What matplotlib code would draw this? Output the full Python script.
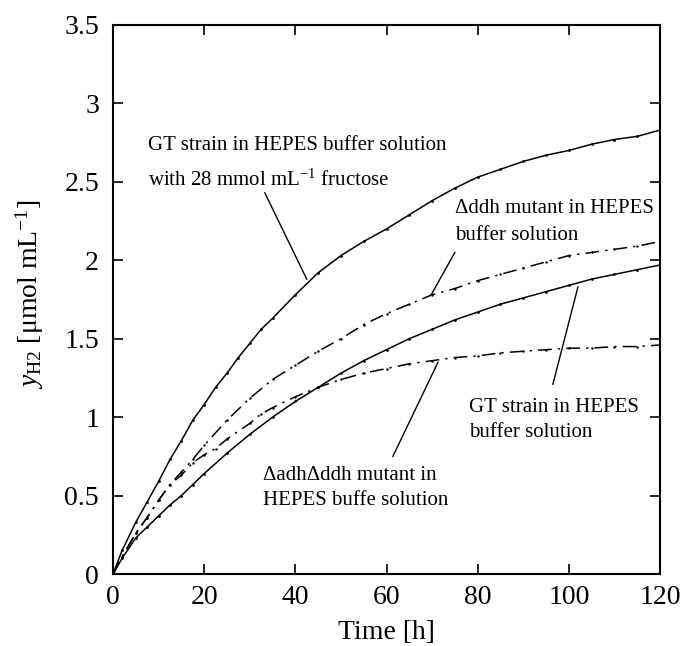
import matplotlib.pyplot as plt

plt.rcParams['font.family'] = ['Liberation Serif', 'DejaVu Serif']
plt.rcParams['mathtext.fontset'] = 'custom'
plt.rcParams['mathtext.rm'] = 'Liberation Serif'
plt.rcParams['mathtext.it'] = 'Liberation Serif:italic'

# GT strain + fructose
t_fru = [0, 2, 5, 7.5, 10, 12.5, 15, 17.5, 20, 22.5, 25, 27.5, 30, 32.5, 35, 40, 45, 50, 55, 60, 65, 70, 75, 80, 85, 90, 95, 100, 105, 110, 115, 120]
y_fru = [0, 0.15, 0.33, 0.46, 0.59, 0.73, 0.85, 0.98, 1.08, 1.19, 1.28, 1.38, 1.47, 1.56, 1.63, 1.78, 1.92, 2.03, 2.12, 2.20, 2.29, 2.38, 2.46, 2.53, 2.58, 2.63, 2.67, 2.70, 2.74, 2.77, 2.79, 2.83]

# delta ddh mutant
t_ddh = [0, 2, 5, 7.5, 10, 12.5, 15, 17.5, 20, 25, 30, 35, 40, 45, 50, 55, 60, 65, 70, 75, 80, 85, 90, 95, 100, 105, 110, 115, 120]
y_ddh = [0, 0.11, 0.26, 0.36, 0.47, 0.57, 0.65, 0.73, 0.82, 0.98, 1.12, 1.24, 1.33, 1.42, 1.50, 1.59, 1.66, 1.72, 1.78, 1.82, 1.87, 1.91, 1.95, 1.99, 2.03, 2.05, 2.07, 2.09, 2.12]

# GT strain
t_gt = [0, 2, 5, 7.5, 10, 12.5, 15, 17.5, 20, 25, 30, 35, 40, 45, 50, 55, 60, 65, 70, 75, 80, 85, 90, 95, 100, 105, 110, 115, 120]
y_gt = [0, 0.1, 0.23, 0.30, 0.37, 0.44, 0.50, 0.57, 0.64, 0.77, 0.89, 1.00, 1.10, 1.19, 1.28, 1.36, 1.43, 1.50, 1.56, 1.62, 1.67, 1.72, 1.76, 1.80, 1.84, 1.88, 1.91, 1.94, 1.97]

# delta adh delta ddh mutant
t_add = [0, 2, 5, 7.5, 10, 12.5, 15, 17.5, 20, 22.5, 25, 30, 32.5, 35, 40, 45, 50, 55, 60, 65, 70, 75, 80, 85, 90, 95, 100, 105, 110, 115, 120]
y_add = [0, 0.11, 0.26, 0.36, 0.47, 0.57, 0.63, 0.71, 0.76, 0.80, 0.86, 0.96, 1.02, 1.06, 1.13, 1.19, 1.24, 1.28, 1.31, 1.34, 1.36, 1.38, 1.39, 1.41, 1.42, 1.43, 1.44, 1.44, 1.45, 1.45, 1.46]

xticks = [0, 20, 40, 60, 80, 100, 120]
yticks = [0, 0.5, 1, 1.5, 2, 2.5, 3, 3.5]
ytick_labels = ['0', '0.5', '1', '1.5', '2', '2.5', '3', '3.5']

fig = plt.figure(figsize=(6.82, 6.46), dpi=100)
ax = fig.add_axes([113/682, 1-574/646, 547/682, 549/646])

ax.plot(t_fru, y_fru, '-', color='black', lw=1.1, marker='.', ms=2)
ax.plot(t_ddh, y_ddh, color='black', lw=1.1, dashes=[9, 4, 1.5, 4], marker='.', ms=1.5)
ax.plot(t_gt, y_gt, '-', color='black', lw=1.1, marker='.', ms=2)
ax.plot(t_add, y_add, color='black', lw=1.1, dashes=[9, 4, 1.5, 4], marker='.', ms=1.5)

ax.set_xlim(0, 120)
ax.set_ylim(0, 3.5)
ax.set_xticks(xticks)
ax.set_yticks(yticks)
ax.set_yticklabels(ytick_labels)
ax.tick_params(direction='in', length=7, width=1.2, top=True, right=True, labelsize=20)
ax.tick_params(axis='y', pad=10)
ax.tick_params(axis='x', pad=8)
for s in ax.spines.values():
    s.set_linewidth(1.5)

ax.set_xlabel('Time [h]', fontsize=20)
ax.set_ylabel(r'$y_{\mathrm{H2}}$ [μmol mL$^{\mathrm{-1}}$]', fontsize=20)
ax.xaxis.label.set_va('center')
ax.yaxis.label.set_va('center')
ax.xaxis.set_label_coords(0.5, -0.107)
ax.yaxis.set_label_coords(-0.152, 0.51)

fs = 15
ax.text(7.7, 2.73, 'GT strain in HEPES buffer solution', fontsize=fs, va='center')
ax.text(7.7, 2.51, r'with 28 mmol mL$^{\mathrm{-1}}$ fructose', fontsize=fs, va='center')
ax.plot([33.3, 42.5], [2.43, 1.88], color='black', lw=1)

ax.text(75, 2.33, 'Δddh mutant in HEPES', fontsize=fs, va='center')
ax.text(75, 2.16, 'buffer solution', fontsize=fs, va='center')
ax.plot([75, 69.8], [2.05, 1.78], color='black', lw=1)

ax.text(78, 1.06, 'GT strain in HEPES', fontsize=fs, va='center')
ax.text(78, 0.90, 'buffer solution', fontsize=fs, va='center')
ax.plot([96.5, 102], [1.21, 1.83], color='black', lw=1)

ax.text(33, 0.63, 'ΔadhΔddh mutant in', fontsize=fs, va='center')
ax.text(33, 0.47, 'HEPES buffe solution', fontsize=fs, va='center')
ax.plot([61.4, 71.3], [0.75, 1.35], color='black', lw=1)

fig.savefig('out.png', dpi=100)
